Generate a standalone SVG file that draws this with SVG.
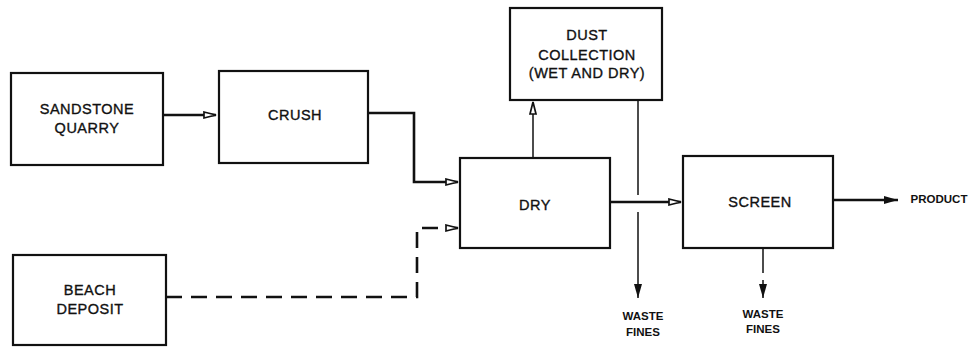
<svg xmlns="http://www.w3.org/2000/svg" width="975" height="348" viewBox="0 0 975 348">
<style>
.box{fill:#fff;stroke:#111;stroke-width:2.2}
.t{font-family:"Liberation Sans",Arial,sans-serif;font-size:14.5px;fill:#111;stroke:#111;stroke-width:0.35;text-anchor:middle;dominant-baseline:central;letter-spacing:0.5px}
.s{font-family:"Liberation Sans",Arial,sans-serif;font-size:11.5px;font-weight:bold;fill:#111;text-anchor:middle;dominant-baseline:central}
.c{fill:none;stroke:#111;stroke-width:2.6;stroke-linejoin:miter}
.thin{fill:none;stroke:#111;stroke-width:1.5}
</style>
<defs>
<marker id="open" viewBox="0 0 14 9" refX="13" refY="4.5" markerWidth="14" markerHeight="9" markerUnits="userSpaceOnUse" orient="auto">
<path d="M1,1.5 L13,4.5 L1,7.5 Z" fill="#fff" stroke="#111" stroke-width="1.7"/>
</marker>
<marker id="fill" viewBox="0 0 14 10" refX="14" refY="5" markerWidth="14" markerHeight="10" markerUnits="userSpaceOnUse" orient="auto">
<path d="M0,1 L14,5 L0,9 Z" fill="#111"/>
</marker>
</defs>
<g id="connectors">
<path class="c" d="M163,115 H216" marker-end="url(#open)"/>
<path class="c" d="M368,113 H414 V182 H458" marker-end="url(#open)"/>
<path class="c" d="M166,297 H417 V228 H458" stroke-dasharray="16,9" marker-end="url(#open)"/>
<path class="thin" d="M533,157 V102" marker-end="url(#open)"/>
<path class="c" d="M610,202 H681" marker-end="url(#open)"/>
<path class="thin" d="M638,100 V195"/>
<path class="thin" d="M638,212 V298" marker-end="url(#fill)"/>
<path class="c" d="M833,200 H898" marker-end="url(#fill)"/>
<path class="thin" d="M763,248 V273"/>
<path class="thin" d="M763,280 V298" marker-end="url(#fill)"/>
</g>
<g id="sandstone-quarry">
<rect class="box" x="11" y="73" width="152" height="92"/>
<text class="t" x="87" y="109">SANDSTONE</text>
<text class="t" x="87" y="128">QUARRY</text>
</g>
<g id="crush">
<rect class="box" x="219" y="71" width="149" height="92"/>
<text class="t" x="295" y="115">CRUSH</text>
</g>
<g id="beach-deposit">
<rect class="box" x="13" y="255" width="153" height="90"/>
<text class="t" x="90" y="290">BEACH</text>
<text class="t" x="90" y="309">DEPOSIT</text>
</g>
<g id="dry">
<rect class="box" x="460" y="158" width="150" height="90"/>
<text class="t" x="535" y="205">DRY</text>
</g>
<g id="dust-collection">
<rect class="box" x="510" y="8" width="152" height="92"/>
<text class="t" x="587" y="35">DUST</text>
<text class="t" x="587" y="55">COLLECTION</text>
<text class="t" x="587" y="73">(WET AND DRY)</text>
</g>
<g id="screen">
<rect class="box" x="683" y="156" width="150" height="92"/>
<text class="t" x="760" y="202">SCREEN</text>
</g>
<g id="labels">
<text class="s" x="643" y="316">WASTE</text>
<text class="s" x="643" y="332">FINES</text>
<text class="s" x="763" y="314">WASTE</text>
<text class="s" x="763" y="329">FINES</text>
<text class="s" x="939" y="199">PRODUCT</text>
</g>
</svg>
